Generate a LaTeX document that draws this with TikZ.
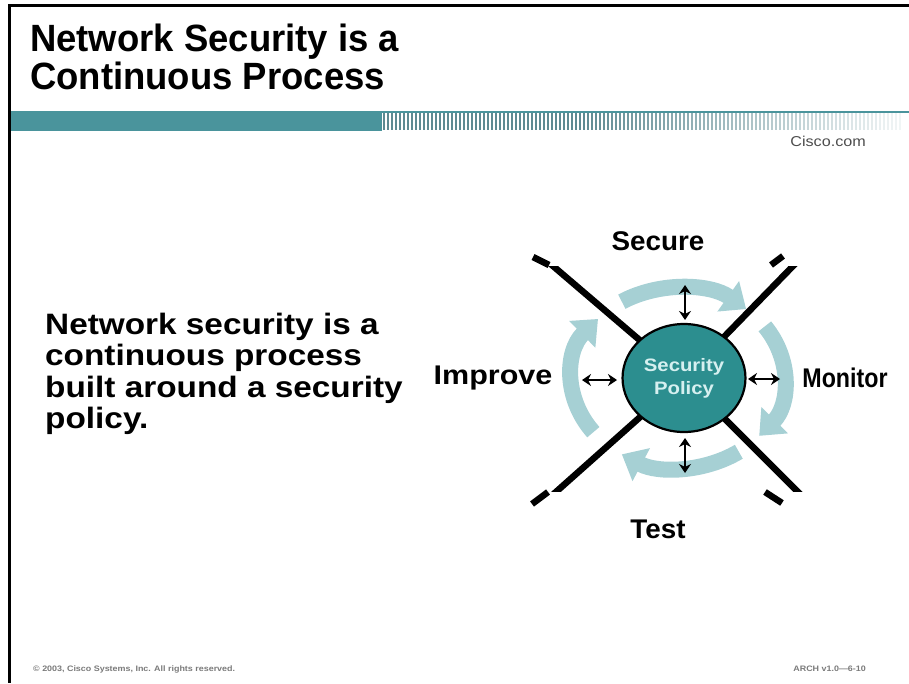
\documentclass[tikz,border=0pt]{standalone}
\usepackage{fontspec}
\setmainfont{Liberation Sans}
\newfontfamily\titlefont{Liberation Sans}[FakeStretch=0.96]
\newfontfamily\bodyfont{Liberation Sans}[FakeStretch=1.13]
\newfontfamily\labelfont{Liberation Sans}
\usetikzlibrary{arrows.meta,shapes.geometric,calc,positioning}
\definecolor{barteal}{HTML}{4A949C}
\definecolor{stripegrey}{HTML}{5E8A92}
\definecolor{hubteal}{HTML}{2C8E8F}
\definecolor{cyclecol}{HTML}{A6D0D4}
\definecolor{hubtext}{HTML}{D6F0F0}
\definecolor{footgrey}{HTML}{7A7A7A}
\tikzset{
  cyclearrow/.style={cyclecol, line width=16pt,
    -{Triangle[width=36pt,length=22pt]}},
  twoway/.style={line width=2.8pt,
    {Stealth[length=9pt,width=12pt]}-{Stealth[length=9pt,width=12pt]}},
  xline/.style={line width=6.5pt},
  stagelabel/.style={inner sep=0pt, font=\labelfont\bfseries\fontsize{27}{30}\selectfont},
}

\begin{document}
\begin{tikzpicture}[x=1pt,y=-1pt]
	\useasboundingbox (0,0) rectangle (909,683);
	% frame
	\draw[line width=3pt] (8,5.5) -- (909,5.5);
	\draw[line width=3pt] (9.5,5.5) -- (9.5,683);
	% title
	\node[anchor=north west, align=left, inner sep=0pt,
	  font=\titlefont\bfseries\fontsize{38}{38}\selectfont] (title) at (30,24)
	  {Network Security is a\\Continuous Process};
	% header bar
	\fill[barteal] (11,111) rectangle (382,131);
	\draw[barteal, line width=2pt] (11,112) -- (909,112);
	\foreach \i in {0,...,129}{
	  \pgfmathtruncatemacro\fade{min(100,max(8,100-(\i-50)*1.15))}
	  \draw[stripegrey!\fade!white, line width=1.6pt] (384+4*\i,113) -- ++(0,17);
	}
	\node[anchor=east, inner sep=0pt, text=black!70,
	  font=\bodyfont\fontsize{14.3}{16}\selectfont] (site) at (866,141) {Cisco.com};
	% body text
	\node[anchor=north west, align=left, inner sep=0pt,
	  font=\bodyfont\bfseries\fontsize{29.5}{31.3}\selectfont] (claim) at (45,313)
	  {Network security is a\\continuous process\\built around a security\\policy.};
	% cycle
	\coordinate (hub) at (678,378);
	\draw[cyclearrow] ($(hub)+(-122:106 and 90)$) arc[start angle=-122, end angle=-50, x radius=106, y radius=90];
	\draw[cyclearrow] ($(hub)+(-35:106 and 90)$) arc[start angle=-35, end angle=40, x radius=106, y radius=90];
	\draw[cyclearrow] ($(hub)+(55:106 and 90)$) arc[start angle=55, end angle=122, x radius=106, y radius=90];
	\draw[cyclearrow] ($(hub)+(143:106 and 90)$) arc[start angle=143, end angle=221, x radius=106, y radius=90];
	% crossing lines
	\coordinate (c) at (684,378);
	\coordinate (tl) at (553,266);
	\coordinate (tr) at (793,266);
	\coordinate (bl) at (557,491);
	\coordinate (br) at (797,491);
	\begin{scope}
	  \clip (500,266) rectangle (860,491);
	  \foreach \p in {tl,tr,bl,br}
	    \draw[xline] ($(c)!1.2!(\p)$) -- (c);
	\end{scope}
	\draw[xline] (533,257) -- (549,265);
	\draw[xline] (783,256) -- (771,265);
	\draw[xline] (548,492) -- (532,504);
	\draw[xline] (765,492) -- (782,503);
	% policy
	\node[ellipse, draw, line width=2.2pt, fill=hubteal, minimum width=122pt, minimum height=108pt,
	  text=hubtext, align=center, font=\bodyfont\bfseries\fontsize{18}{23}\selectfont] (policy) at (c)
	  {Security\\Policy};
	% stages
	\node[stagelabel] (secure) at (658,241) {\scalebox{1.03}[1]{Secure}};
	\node[stagelabel] (monitor) at (845,378) {\scalebox{0.86}[1]{Monitor}};
	\node[stagelabel] (test) at (658,529) {\scalebox{1.03}[1]{Test}};
	\node[stagelabel] (improve) at (493,378) {\scalebox{1.13}[1]{Improve}};
	\coordinate (secA) at (685,285);
	\coordinate (secB) at (685,320);
	\coordinate (tstA) at (685,438);
	\coordinate (tstB) at (685,473);
	\coordinate (impA) at (582,380);
	\coordinate (impB) at (617,380);
	\coordinate (monA) at (748,379);
	\coordinate (monB) at (780,379);
	\draw[twoway] (secA) -- (secB);
	\draw[twoway] (tstA) -- (tstB);
	\draw[twoway] (impA) -- (impB);
	\draw[twoway] (monA) -- (monB);
	% footer
	\node[anchor=west, inner sep=0pt, text=footgrey,
	  font=\bodyfont\bfseries\fontsize{7.9}{9}\selectfont] (copy) at (33,669)
	  {\textcopyright{} 2003, Cisco Systems, Inc. All rights reserved.};
	\node[anchor=east, inner sep=0pt, text=footgrey,
	  font=\bodyfont\bfseries\fontsize{7.9}{9}\selectfont] (code) at (866,669)
	  {ARCH v1.0—6-10};
\end{tikzpicture}
\end{document}
